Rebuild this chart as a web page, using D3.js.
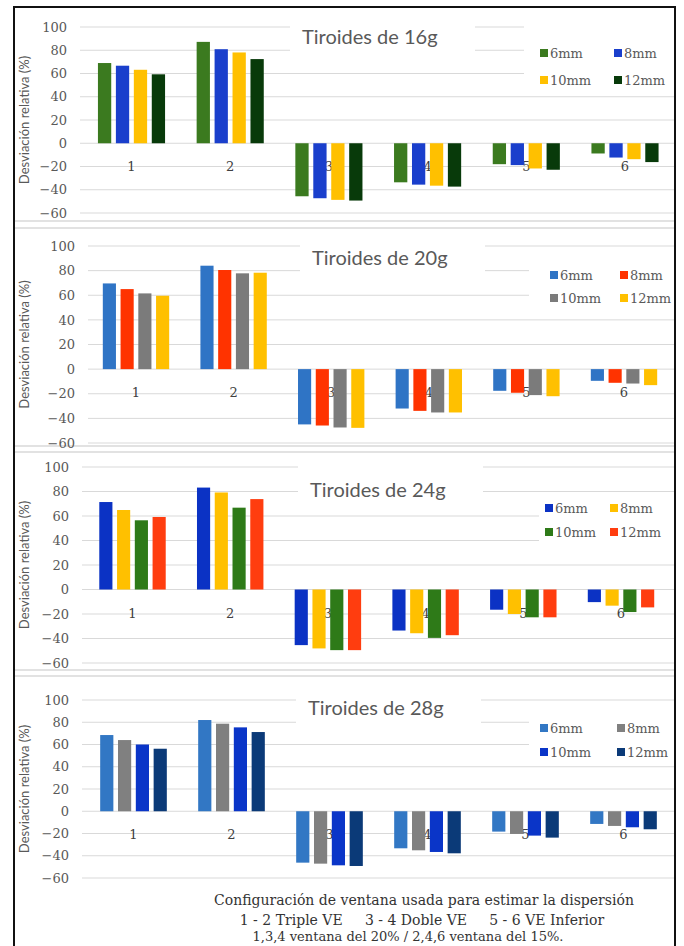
<!DOCTYPE html>
<html>
<head>
<meta charset="utf-8">
<script src="https://cdn.jsdelivr.net/npm/d3@7"></script>
<style>
  html, body { margin: 0; padding: 0; background: #fff; }
  #chart { width: 684px; height: 946px; }
</style>
</head>
<body>
<div id="chart"></div>
<script>
// categorias del eje x y series (tamaño de lesión)
const categorias = ['1', '2', '3', '4', '5', '6'];
const series = ['6mm', '8mm', '10mm', '12mm'];
const titulos = ['Tiroides de 16g', 'Tiroides de 20g', 'Tiroides de 24g', 'Tiroides de 28g'];
const ticksY = [-60, -40, -20, 0, 20, 40, 60, 80, 100];

// valores, una fila por categoria, una columna por serie
const valores16 = [
  [69, 66.7, 63.2, 59.3],
  [87.2, 80.9, 78.1, 72.4],
  [-45.6, -47.3, -48.7, -49.3],
  [-33.6, -35.6, -36.5, -37.3],
  [-18, -18.8, -21.7, -22.8],
  [-8.8, -12.3, -13.7, -16.2]
];
const valores20 = [
  [69.6, 65, 61.5, 59.6],
  [84, 80.5, 77.8, 78.3],
  [-44.9, -45.8, -47.4, -47.7],
  [-32, -33.9, -35.2, -35.2],
  [-17.6, -19.2, -21.1, -22],
  [-9.5, -11.1, -11.7, -13]
];
const valores24 = [
  [71.4, 64.9, 56.5, 59.2],
  [83.2, 79.2, 66.8, 73.8],
  [-45.4, -48.1, -49.5, -49.5],
  [-33.5, -35.7, -39.5, -37.3],
  [-16.5, -20, -22.7, -22.7],
  [-10.3, -13.2, -18.4, -14.6]
];
const valores28 = [
  [68.5, 64, 60, 56.2],
  [82, 78.7, 75.4, 71.2],
  [-46.2, -47.1, -48.6, -49.2],
  [-33.3, -35.1, -36.6, -37.8],
  [-18.3, -20.4, -21.9, -23.7],
  [-11.4, -13.2, -14.4, -16.2]
];

const colores16 = ['#3b7a1f', '#1a3fcc', '#ffc000', '#083a0a'];
const colores20 = ['#2f74c5', '#ff3300', '#7b7b7b', '#ffc000'];
const colores24 = ['#0b32c4', '#ffc000', '#2e7a18', '#ff3d0f'];
const colores28 = ['#3277c4', '#808080', '#0a35c8', '#0b3a78'];

const notas = [
  'Configuración de ventana usada para estimar la dispersión',
  '1 - 2 Triple VE     3 - 4 Doble VE     5 - 6 VE Inferior',
  '1,3,4 ventana del 20% / 2,4,6 ventana del 15%.'
];

// posicion de cada panel en la pagina
const layout = [
  { y100: 27, yMin: 213, left: 80, c1: 131.5, c6: 625, titleX: 302, titleY: 44,
    leg: [524, 20, 90], legRows: [53, 80], legX: [540, 614] },
  { y100: 246, yMin: 443, left: 88, c1: 136, c6: 624, titleX: 312, titleY: 265,
    leg: [529, 258, 310], legRows: [275, 298], legX: [550, 620] },
  { y100: 467, yMin: 663, left: 82, c1: 132.5, c6: 621, titleX: 310, titleY: 497,
    leg: [539, 500, 550], legRows: [508, 532], legX: [545, 610] },
  { y100: 700, yMin: 878, left: 82, c1: 133.5, c6: 623.5, titleX: 308, titleY: 715,
    leg: [529, 712, 762], legRows: [728, 752], legX: [540, 617] }
];

const valores = [valores16, valores20, valores24, valores28];
const colores = [colores16, colores20, colores24, colores28];
const panels = layout.map((l, i) => ({ ...l, titulo: titulos[i], valores: valores[i], colores: colores[i] }));

const W = 684, H = 946;
const borderL = 14, borderR = 675, borderT = 7, borderB = 945;
const separadores = [221, 228, 446, 452, 670, 676];

const svg = d3.select('#chart').append('svg')
  .attr('width', W)
  .attr('height', H);

svg.append('defs').append('clipPath')
  .attr('id', 'clip')
  .append('rect')
  .attr('x', borderL)
  .attr('y', borderT)
  .attr('width', borderR - borderL)
  .attr('height', borderB - borderT);

const root = svg.append('g').attr('clip-path', 'url(#clip)');

// lineas entre paneles
root.selectAll('line.sep')
  .data(separadores)
  .enter().append('line')
  .attr('class', 'sep')
  .attr('x1', borderL).attr('x2', borderR)
  .attr('y1', d => d).attr('y2', d => d)
  .attr('stroke', '#d9d9d9')
  .attr('stroke-width', 1.5);

const drawPanel = (p) => {
  const g = root.append('g');

  const y = d3.scaleLinear().domain([-60, 100]).range([p.yMin, p.y100]);
  const step = (p.c6 - p.c1) / 5;
  const x0 = d3.scaleBand()
    .domain(categorias)
    .range([p.c1 - step / 2, p.c6 + step / 2])
    .paddingInner(0.32)
    .paddingOuter(0.16);
  const x1 = d3.scaleBand()
    .domain(series)
    .range([0, x0.bandwidth()])
    .paddingInner(0.26);

  // gridlines
  g.selectAll('line.grid')
    .data(ticksY)
    .enter().append('line')
    .attr('x1', p.left).attr('x2', borderR)
    .attr('y1', d => y(d)).attr('y2', d => y(d))
    .attr('stroke', '#d9d9d9')
    .attr('stroke-width', 1);

  const yAxis = d3.axisLeft(y).tickValues(ticksY).tickSize(0).tickPadding(0);
  const ax = g.append('g')
    .attr('transform', `translate(${p.left - 13},0)`)
    .call(yAxis);
  ax.select('.domain').remove();
  ax.selectAll('text')
    .attr('font-family', 'DejaVu Serif')
    .attr('font-size', 13)
    .attr('fill', '#595959');

  g.append('text')
    .attr('transform', `translate(29,${(p.y100 + p.yMin) / 2}) rotate(-90)`)
    .attr('text-anchor', 'middle')
    .attr('font-family', 'Lato')
    .attr('font-size', 13)
    .attr('fill', '#595959')
    .text('Desviación relativa (%)');

  // etiquetas de categoria (quedan detras de las barras)
  g.selectAll('text.cat')
    .data(categorias)
    .enter().append('text')
    .attr('x', d => x0(d) + x0.bandwidth() / 2)
    .attr('y', y(0) + 28)
    .attr('text-anchor', 'middle')
    .attr('font-family', 'DejaVu Serif')
    .attr('font-size', 13)
    .attr('fill', '#404040')
    .text(d => d);

  // recuadro blanco del titulo
  g.append('rect')
    .attr('x', p.titleX - 12)
    .attr('y', p.titleY - 32)
    .attr('width', 185)
    .attr('height', 46)
    .attr('fill', '#fff');

  g.append('text')
    .attr('x', p.titleX)
    .attr('y', p.titleY)
    .attr('font-family', 'Lato')
    .attr('font-size', 20)
    .attr('fill', '#595959')
    .text(p.titulo);

  // recuadro blanco de la leyenda
  g.append('rect')
    .attr('x', p.leg[0])
    .attr('y', p.leg[1])
    .attr('width', borderR - p.leg[0])
    .attr('height', p.leg[2] - p.leg[1])
    .attr('fill', '#fff');

  const groups = g.selectAll('g.cat')
    .data(p.valores)
    .enter().append('g')
    .attr('transform', (d, i) => `translate(${x0(categorias[i])},0)`);

  groups.selectAll('rect')
    .data(d => d.map((v, j) => ({ serie: series[j], v, color: p.colores[j] })))
    .enter().append('rect')
    .attr('x', d => x1(d.serie))
    .attr('width', x1.bandwidth())
    .attr('y', d => y(Math.max(0, d.v)))
    .attr('height', d => Math.abs(y(d.v) - y(0)))
    .attr('fill', d => d.color);

  const legItems = g.selectAll('g.leg')
    .data(series)
    .enter().append('g')
    .attr('transform', (d, i) => `translate(${p.legX[i % 2]},${p.legRows[Math.floor(i / 2)]})`);

  legItems.append('rect')
    .attr('x', 0).attr('y', -4)
    .attr('width', 8).attr('height', 8)
    .attr('fill', (d, i) => p.colores[i]);

  legItems.append('text')
    .attr('x', 10)
    .attr('y', 4.5)
    .attr('font-family', 'DejaVu Serif')
    .attr('font-size', 13)
    .attr('fill', '#595959')
    .text(d => d);
};

panels.forEach(drawPanel);

// notas al pie
root.selectAll('text.nota')
  .data(notas)
  .enter().append('text')
  .attr('x', (d, i) => [424, 422, 408][i])
  .attr('y', (d, i) => [905, 925, 941][i])
  .attr('text-anchor', 'middle')
  .attr('font-family', 'DejaVu Serif')
  .attr('font-size', (d, i) => i === 2 ? 13 : 14)
  .attr('fill', '#333')
  .attr('xml:space', 'preserve')
  .style('white-space', 'pre')
  .text(d => d);

// marco exterior
svg.append('rect')
  .attr('x', borderL)
  .attr('y', borderT)
  .attr('width', borderR - borderL)
  .attr('height', borderB - borderT + 4)
  .attr('fill', 'none')
  .attr('stroke', '#111')
  .attr('stroke-width', 2);
</script>
</body>
</html>
